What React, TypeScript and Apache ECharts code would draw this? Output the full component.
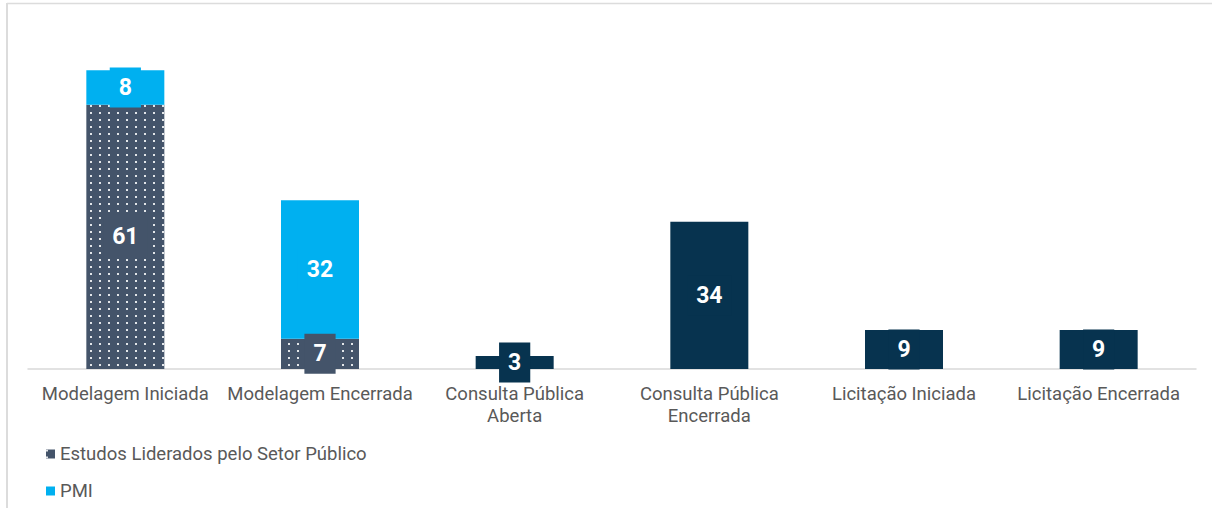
import React, { useEffect, useRef } from "react";
import * as echarts from "echarts";

const categories = [
  "Modelagem Iniciada",
  "Modelagem Encerrada",
  "Consulta Pública\nAberta",
  "Consulta Pública\nEncerrada",
  "Licitação Iniciada",
  "Licitação Encerrada",
];
const setorPublico = [61, 7, null, null, null, null];
const pmi = [8, 32, null, null, null, null];
const projetos = [null, null, 3, 34, 9, 9];

const SLATE = "#44546A";
const CYAN = "#00B0F0";
const NAVY = "#07334F";

export default function App() {
  const ref = useRef<HTMLDivElement>(null);
  useEffect(() => {
    document.body.style.margin = "0";
    const chart = echarts.init(ref.current!, null, { renderer: "svg" });
    const label = (bg: string) => ({
      show: true,
      position: "inside",
      color: "#ffffff",
      fontSize: 23,
      fontWeight: "bold",
      fontFamily: "Roboto",
      backgroundColor: bg,
      padding: [8, 9, 8, 9],
      lineHeight: 24,
    });
    chart.setOption({
      animation: false,
      backgroundColor: "#ffffff",
      textStyle: { fontFamily: "Roboto" },
      grid: { left: 28, right: 16, top: 22.6, bottom: 139, containLabel: false },
      xAxis: {
        type: "category",
        data: categories,
        axisLine: { show: true, lineStyle: { color: "#D9D9D9", width: 1.5 } },
        axisTick: { show: false },
        axisLabel: {
          color: "#595959",
          fontSize: 18.5,
          fontFamily: "Roboto",
          lineHeight: 22,
          margin: 14,
          interval: 0,
        },
      },
      yAxis: {
        type: "value",
        min: 0,
        max: 80,
        show: false,
        splitLine: { show: false },
      },
      legend: {
        orient: "vertical",
        left: 46,
        top: 444,
        padding: 0,
        data: ["Estudos Liderados pelo Setor Público", "PMI"],
        icon: "rect",
        itemWidth: 9,
        itemHeight: 9,
        itemGap: 17,
        textStyle: { color: "#595959", fontSize: 18.5, fontFamily: "Roboto", lineHeight: 20 },
      },
      graphic: [
        {
          type: "line",
          shape: { x1: 7, y1: 3.5, x2: 1212, y2: 3.5 },
          style: { stroke: "#DCDCDC", lineWidth: 1.5 },
          silent: true,
        },
        {
          type: "line",
          shape: { x1: 7, y1: 3, x2: 7, y2: 508 },
          style: { stroke: "#DCDCDC", lineWidth: 2 },
          silent: true,
        },
      ],
      series: [
        {
          name: "Estudos Liderados pelo Setor Público",
          type: "bar",
          stack: "total",
          barWidth: 78,
          data: setorPublico,
          itemStyle: {
            color: SLATE,
            decal: {
              symbol: "rect",
              symbolSize: 1,
              color: "rgba(255,255,255,0.85)",
              dashArrayX: [1.5, 7],
              dashArrayY: [1.5, 4.5],
              rotation: 0,
            },
          },
          label: label(SLATE),
        },
        {
          name: "PMI",
          type: "bar",
          stack: "total",
          barWidth: 78,
          data: pmi,
          itemStyle: { color: CYAN },
          label: label(CYAN),
        },
        {
          name: "Projetos",
          type: "bar",
          stack: "total",
          barWidth: 78,
          data: projetos,
          itemStyle: { color: NAVY },
          label: label(NAVY),
        },
      ],
    });
    return () => chart.dispose();
  }, []);
  return <div ref={ref} style={{ width: 1212, height: 508 }} />;
}
